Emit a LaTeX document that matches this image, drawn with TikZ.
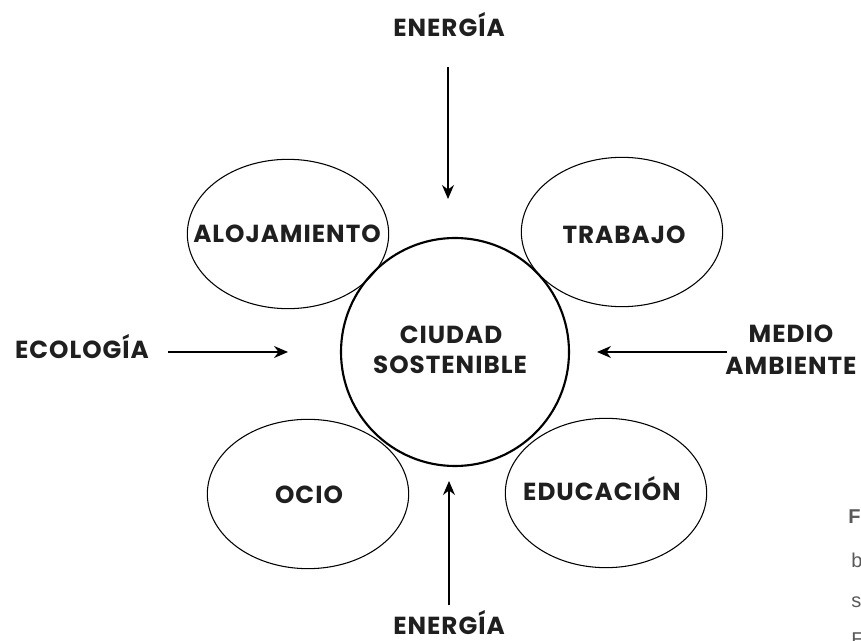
\documentclass[tikz,border=0pt]{standalone}
\usepackage{fontspec}
\setmainfont{Poppins}[LetterSpace=4]
\newfontfamily\capfont{Liberation Sans}
\usetikzlibrary{arrows.meta, positioning, shapes.geometric}

\begin{document}
\begin{tikzpicture}[x=0.75pt, y=-0.75pt]
  % Block styles
  \tikzstyle{hub} = [circle, draw, line width=1.6pt, minimum size=171pt, inner sep=0pt]
  \tikzstyle{area} = [ellipse, draw, line width=0.8pt, minimum width=151pt, minimum height=112pt, inner sep=0pt]
  \tikzstyle{word} = [anchor=base, inner sep=0pt, text=black!88, font=\fontsize{18.5}{22}\selectfont\bfseries]
  \tikzstyle{flow} = [-{Stealth[length=10.5pt, width=9pt]}, line width=1pt]
  \tikzstyle{caption} = [anchor=base west, inner sep=0pt, text=black!65, font=\capfont\fontsize{15}{18}\selectfont]
  \useasboundingbox (0,0) rectangle (861,641);
  % Shapes
  \node[hub] (ciudad) at (455,352) {};
  \node[area] (alojamiento) at (288,234) {};
  \node[area] (trabajo) at (622,232) {};
  \node[area] (ocio) at (308,494) {};
  \node[area] (educacion) at (606,493) {};
  % Texts
  \node[word] (ciudad_a) at (451,344) {CIUDAD};
  \node[word] (ciudad_b) at (450,374) {SOSTENIBLE};
  \node[word] (alojamiento_t) at (287,243) {ALOJAMIENTO};
  \node[word] (trabajo_t) at (624,244) {TRABAJO};
  \node[word] (ocio_t) at (309,504) {OCIO};
  \node[word] (educacion_t) at (602,501) {EDUCACIÓN};
  \node[word] (energia_top) at (449,37) {ENERGÍA};
  \node[word] (energia_bottom) at (449,634) {ENERGÍA};
  \node[word] (ecologia) at (82,359) {ECOLOGÍA};
  \node[word] (medio_a) at (791,343) {MEDIO};
  \node[word] (medio_b) at (791,375) {AMBIENTE};
  % Arrow ends
  \coordinate (top_tail) at (448,67);
  \coordinate (top_tip) at (448,199);
  \coordinate (bottom_tail) at (449,605);
  \coordinate (bottom_tip) at (449,481);
  \coordinate (left_tail) at (168,352);
  \coordinate (left_tip) at (288,352);
  \coordinate (right_tail) at (727,352);
  \coordinate (right_tip) at (597,352);
  % Connections
  \draw[flow] (top_tail) -- (top_tip);
  \draw[flow] (bottom_tail) -- (bottom_tip);
  \draw[flow] (left_tail) -- (left_tip);
  \draw[flow] (right_tail) -- (right_tip);
  % Cut caption at the right edge
  \node[caption, font=\capfont\fontsize{15}{18}\selectfont\bfseries] (cap_a) at (848,524) {F};
  \node[caption] (cap_b) at (851,567) {b};
  \node[caption] (cap_c) at (851,608) {s};
  \node[caption] (cap_d) at (851,647) {E};
\end{tikzpicture}
\end{document}
